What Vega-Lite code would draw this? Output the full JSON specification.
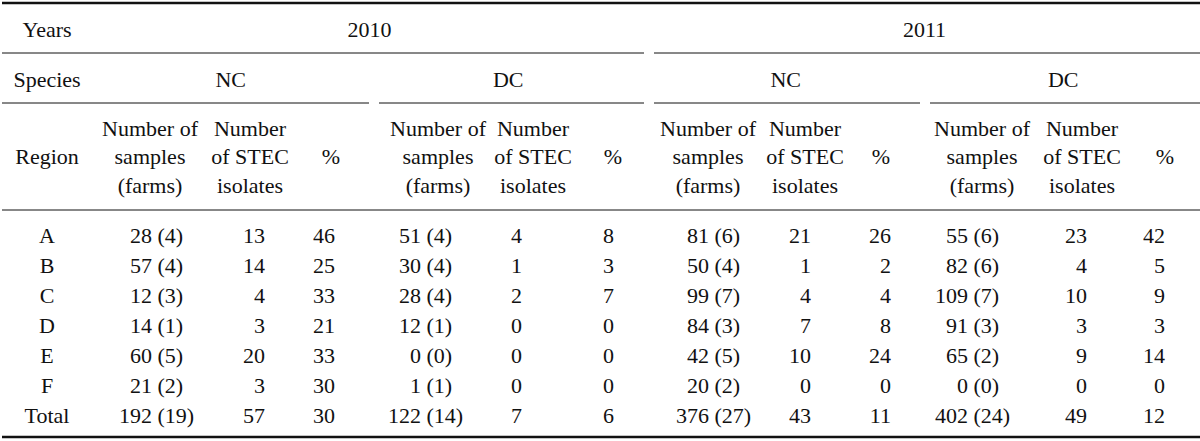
{
  "$schema": "https://vega.github.io/schema/vega-lite/v6.json",
  "width": 1200,
  "height": 441,
  "autosize": {"type": "fit", "contains": "padding"},
  "padding": 0,
  "background": "white",
  "config": {
    "view": {"stroke": null},
    "axis": {"disable": true},
    "text": {"font": "Liberation Serif", "fontSize": 22, "color": "#111", "baseline": "middle"},
    "rule": {"color": "#111"}
  },
  "datasets": {
    "counts": [
      {"region": "A", "year": "2010", "species": "NC", "block": 1, "samples": 28, "farms": 4, "stec": 13, "pct": 46},
      {"region": "B", "year": "2010", "species": "NC", "block": 1, "samples": 57, "farms": 4, "stec": 14, "pct": 25},
      {"region": "C", "year": "2010", "species": "NC", "block": 1, "samples": 12, "farms": 3, "stec": 4, "pct": 33},
      {"region": "D", "year": "2010", "species": "NC", "block": 1, "samples": 14, "farms": 1, "stec": 3, "pct": 21},
      {"region": "E", "year": "2010", "species": "NC", "block": 1, "samples": 60, "farms": 5, "stec": 20, "pct": 33},
      {"region": "F", "year": "2010", "species": "NC", "block": 1, "samples": 21, "farms": 2, "stec": 3, "pct": 30},
      {"region": "Total", "year": "2010", "species": "NC", "block": 1, "samples": 192, "farms": 19, "stec": 57, "pct": 30},
      {"region": "A", "year": "2010", "species": "DC", "block": 2, "samples": 51, "farms": 4, "stec": 4, "pct": 8},
      {"region": "B", "year": "2010", "species": "DC", "block": 2, "samples": 30, "farms": 4, "stec": 1, "pct": 3},
      {"region": "C", "year": "2010", "species": "DC", "block": 2, "samples": 28, "farms": 4, "stec": 2, "pct": 7},
      {"region": "D", "year": "2010", "species": "DC", "block": 2, "samples": 12, "farms": 1, "stec": 0, "pct": 0},
      {"region": "E", "year": "2010", "species": "DC", "block": 2, "samples": 0, "farms": 0, "stec": 0, "pct": 0},
      {"region": "F", "year": "2010", "species": "DC", "block": 2, "samples": 1, "farms": 1, "stec": 0, "pct": 0},
      {"region": "Total", "year": "2010", "species": "DC", "block": 2, "samples": 122, "farms": 14, "stec": 7, "pct": 6},
      {"region": "A", "year": "2011", "species": "NC", "block": 3, "samples": 81, "farms": 6, "stec": 21, "pct": 26},
      {"region": "B", "year": "2011", "species": "NC", "block": 3, "samples": 50, "farms": 4, "stec": 1, "pct": 2},
      {"region": "C", "year": "2011", "species": "NC", "block": 3, "samples": 99, "farms": 7, "stec": 4, "pct": 4},
      {"region": "D", "year": "2011", "species": "NC", "block": 3, "samples": 84, "farms": 3, "stec": 7, "pct": 8},
      {"region": "E", "year": "2011", "species": "NC", "block": 3, "samples": 42, "farms": 5, "stec": 10, "pct": 24},
      {"region": "F", "year": "2011", "species": "NC", "block": 3, "samples": 20, "farms": 2, "stec": 0, "pct": 0},
      {"region": "Total", "year": "2011", "species": "NC", "block": 3, "samples": 376, "farms": 27, "stec": 43, "pct": 11},
      {"region": "A", "year": "2011", "species": "DC", "block": 4, "samples": 55, "farms": 6, "stec": 23, "pct": 42},
      {"region": "B", "year": "2011", "species": "DC", "block": 4, "samples": 82, "farms": 6, "stec": 4, "pct": 5},
      {"region": "C", "year": "2011", "species": "DC", "block": 4, "samples": 109, "farms": 7, "stec": 10, "pct": 9},
      {"region": "D", "year": "2011", "species": "DC", "block": 4, "samples": 91, "farms": 3, "stec": 3, "pct": 3},
      {"region": "E", "year": "2011", "species": "DC", "block": 4, "samples": 65, "farms": 2, "stec": 9, "pct": 14},
      {"region": "F", "year": "2011", "species": "DC", "block": 4, "samples": 0, "farms": 0, "stec": 0, "pct": 0},
      {"region": "Total", "year": "2011", "species": "DC", "block": 4, "samples": 402, "farms": 24, "stec": 49, "pct": 12}
    ],
    "headers": [
      {"level": 0, "col": 0, "label": "Years"},
      {"level": 1, "col": 0, "label": "Species"},
      {"level": 2, "col": 0, "label": "Region"},
      {"level": 2, "col": 1, "label": ["Number of", "samples", "(farms)"]},
      {"level": 2, "col": 2, "label": ["Number", "of STEC", "isolates"]},
      {"level": 2, "col": 3, "label": "%"},
      {"level": 2, "col": 4, "label": ["Number of", "samples", "(farms)"]},
      {"level": 2, "col": 5, "label": ["Number", "of STEC", "isolates"]},
      {"level": 2, "col": 6, "label": "%"},
      {"level": 2, "col": 7, "label": ["Number of", "samples", "(farms)"]},
      {"level": 2, "col": 8, "label": ["Number", "of STEC", "isolates"]},
      {"level": 2, "col": 9, "label": "%"},
      {"level": 2, "col": 10, "label": ["Number of", "samples", "(farms)"]},
      {"level": 2, "col": 11, "label": ["Number", "of STEC", "isolates"]},
      {"level": 2, "col": 12, "label": "%"}
    ],
    "years": [
      {"level": 0, "year": "2010"},
      {"level": 0, "year": "2011"}
    ],
    "species": [
      {"level": 1, "block": "2010 NC", "label": "NC"},
      {"level": 1, "block": "2010 DC", "label": "DC"},
      {"level": 1, "block": "2011 NC", "label": "NC"},
      {"level": 1, "block": "2011 DC", "label": "DC"}
    ],
    "lines": [
      {"level": 0, "from": 0, "to": 13},
      {"level": 1, "from": 0, "to": 7},
      {"level": 1, "from": 7, "to": 13},
      {"level": 2, "from": 0, "to": 4},
      {"level": 2, "from": 4, "to": 7},
      {"level": 2, "from": 7, "to": 10},
      {"level": 2, "from": 10, "to": 13},
      {"level": 3, "from": 0, "to": 13},
      {"level": 4, "from": 0, "to": 13}
    ]
  },
  "layer": [
    {
      "data": {"name": "lines"},
      "mark": {"type": "rule", "xOffset": 5, "x2Offset": -5},
      "encoding": {
        "x": {"field": "from", "type": "quantitative", "scale": {"domain": [0, 4, 7, 10, 13], "range": [-5, 372, 647, 923, 1205], "zero": false, "nice": false}},
        "x2": {"field": "to"},
        "y": {"field": "level", "type": "quantitative", "scale": {"domain": [0, 1, 2, 3, 4], "range": [3, 53, 103, 210, 437], "zero": false, "nice": false}},
        "strokeWidth": {"condition": {"test": "datum.level == 0 || datum.level == 4", "value": 2.5}, "value": 1}
      }
    },
    {
      "data": {"name": "headers"},
      "encoding": {
        "x": {"field": "col", "type": "quantitative", "scale": {"domain": [0, 1, 2, 3, 4, 5, 6, 7, 8, 9, 10, 11, 12], "range": [45, 148, 248, 329, 436, 531, 611, 706, 803, 879, 980, 1080, 1163], "zero": false, "nice": false}},
        "y": {"field": "level", "type": "quantitative", "scale": {"domain": [0, 1, 2], "range": [30, 80, 157], "zero": false, "nice": false}},
        "text": {"field": "label"}
      },
      "layer": [
        {
          "transform": [{"filter": "!isArray(datum.label)"}],
          "mark": {"type": "text", "align": "center"}
        },
        {
          "transform": [{"filter": "isArray(datum.label)"}],
          "mark": {"type": "text", "align": "center", "lineHeight": 28.5, "dy": -28.5}
        }
      ]
    },
    {
      "data": {"name": "years"},
      "mark": {"type": "text", "align": "center"},
      "encoding": {
        "x": {"field": "year", "type": "nominal", "scale": {"type": "band", "domain": ["2010", "2011"], "range": [90, 1200], "paddingInner": 0, "paddingOuter": 0}},
        "y": {"field": "level", "type": "quantitative", "scale": {"domain": [0, 1, 2], "range": [30, 80, 157], "zero": false, "nice": false}},
        "text": {"field": "year"}
      }
    },
    {
      "data": {"name": "species"},
      "mark": {"type": "text", "align": "center"},
      "encoding": {
        "x": {"field": "block", "type": "nominal", "scale": {"type": "band", "domain": ["2010 NC", "2010 DC", "2011 NC", "2011 DC"], "range": [90, 1200], "paddingInner": 0, "paddingOuter": 0}},
        "y": {"field": "level", "type": "quantitative", "scale": {"domain": [0, 1, 2], "range": [30, 80, 157], "zero": false, "nice": false}},
        "text": {"field": "label"}
      }
    },
    {
      "data": {"name": "counts"},
      "encoding": {
        "y": {"field": "region", "type": "nominal", "scale": {"type": "point", "domain": ["A", "B", "C", "D", "E", "F", "Total"], "range": [236, 416], "padding": 0}}
      },
      "layer": [
        {
          "transform": [{"filter": "datum.block == 1"}],
          "mark": {"type": "text", "align": "center"},
          "encoding": {
            "x": {"datum": 0, "type": "quantitative", "scale": {"domain": [0, 1], "range": [45, 46], "zero": false, "nice": false}},
            "text": {"field": "region"}
          }
        },
        {
          "mark": {"type": "text", "align": "right"},
          "encoding": {
            "x": {"field": "block", "type": "quantitative", "scale": {"domain": [1, 2, 3, 4], "range": [150, 419, 707, 966], "zero": false, "nice": false}},
            "text": {"field": "samples", "type": "nominal"}
          }
        },
        {
          "mark": {"type": "text", "align": "left", "dx": 5.5, "text": {"expr": "'(' + datum.farms + ')'"}},
          "encoding": {
            "x": {"field": "block", "type": "quantitative", "scale": {"domain": [1, 2, 3, 4], "range": [150, 419, 707, 966], "zero": false, "nice": false}}
          }
        },
        {
          "mark": {"type": "text", "align": "right"},
          "encoding": {
            "x": {"field": "block", "type": "quantitative", "scale": {"domain": [1, 2, 3, 4], "range": [263, 520, 809, 1085], "zero": false, "nice": false}},
            "text": {"field": "stec", "type": "nominal"}
          }
        },
        {
          "mark": {"type": "text", "align": "right"},
          "encoding": {
            "x": {"field": "block", "type": "quantitative", "scale": {"domain": [1, 2, 3, 4], "range": [333, 612, 889, 1163], "zero": false, "nice": false}},
            "text": {"field": "pct", "type": "nominal"}
          }
        }
      ],
      "resolve": {"scale": {"x": "independent"}}
    }
  ],
  "resolve": {"scale": {"x": "independent", "y": "independent"}}
}
